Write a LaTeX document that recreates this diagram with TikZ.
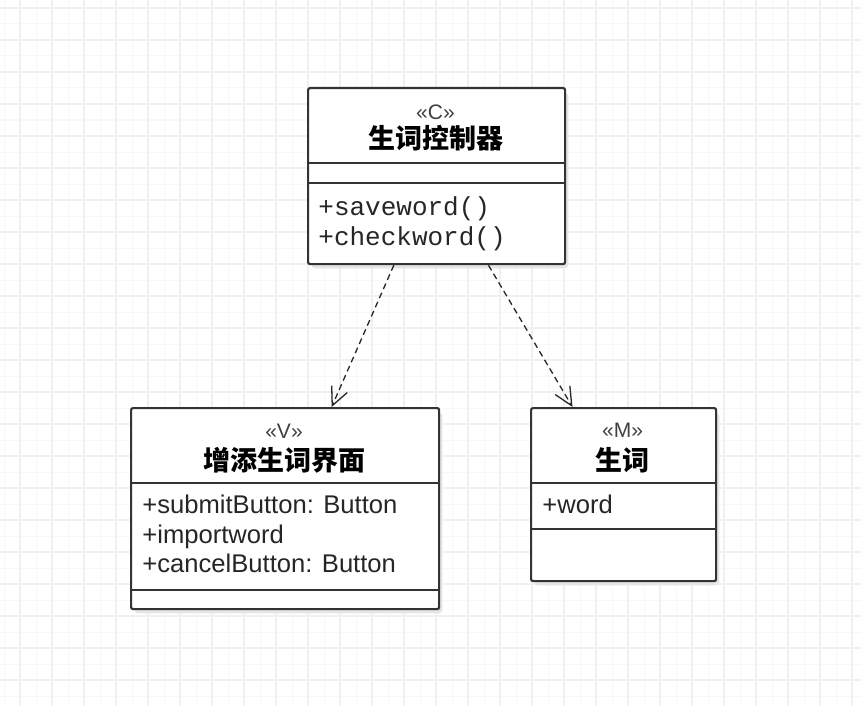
\documentclass[tikz,border=0pt]{standalone}
\usepackage{fontspec}
\setmainfont{Liberation Sans}
\newfontfamily\monofont{Liberation Mono}
\newfontfamily\cjk{Noto Sans CJK SC}
\usetikzlibrary{positioning,arrows.meta,calc}

\begin{document}
\begin{tikzpicture}[x=0.5pt,y=-0.5pt,
  umlbox/.style={draw=black!80, line width=1.1pt, fill=white, rounded corners=1pt, anchor=north west, inner sep=0pt},
  shadowbox/.style={fill=black!10, rounded corners=2pt, anchor=north west, inner sep=0pt},
  sepline/.style={draw=black!80, line width=1.1pt},
  stereo/.style={font=\fontsize{10.5}{12}\selectfont, text=black!75, inner sep=0pt},
  clsname/.style={font=\cjk\bfseries\fontsize{13.5}{16}\selectfont, inner sep=0pt},
  member/.style={font=\fontsize{12.8}{15}\selectfont, text=black!85, anchor=base west, inner sep=0pt},
  method/.style={font=\monofont\fontsize{13}{15}\selectfont, text=black!85, anchor=base west, inner sep=0pt},
  dep/.style={draw=black!85, line width=0.65pt, dash pattern=on 3pt off 2pt, -{Straight Barb[length=9pt,width=8.5pt]}},
  gridminor/.style={draw=black!3, line width=0.5pt},
  gridmajor/.style={draw=black!6, line width=0.6pt}]

\useasboundingbox (0,0) rectangle (861,706);
\fill[white] (0,0) rectangle (861,706);

% Background grid
\begin{scope}
\clip (0,0) rectangle (861,706);
\foreach \gx in {4,36,...,868} \draw[gridminor] (\gx,0) -- (\gx,706);
\foreach \gy in {24,56,...,712} \draw[gridminor] (0,\gy) -- (861,\gy);
\foreach \gx in {20,52,...,852} \draw[gridmajor] (\gx,0) -- (\gx,706);
\foreach \gy in {8,40,...,712} \draw[gridmajor] (0,\gy) -- (861,\gy);
\end{scope}

% Controller class
\node[shadowbox, minimum width=128.5pt, minimum height=88pt] at (311,92) {};
\node[umlbox, minimum width=128.5pt, minimum height=88pt] (ctrl) at (307,87) {};
\draw[sepline] (ctrl.west |- 0,163) -- (ctrl.east |- 0,163);
\draw[sepline] (ctrl.west |- 0,183) -- (ctrl.east |- 0,183);
\node[stereo] (ctrlst) at (435.5,112) {«C»};
\node[clsname] (ctrlname) at (435.5,138) {生词控制器};
\node[method] (save) at (318,215) {+saveword()};
\node[method] (check) at (318,245) {+checkword()};

% View class
\node[shadowbox, minimum width=154pt, minimum height=100.5pt] at (134,412) {};
\node[umlbox, minimum width=154pt, minimum height=100.5pt] (view) at (130,407) {};
\draw[sepline] (view.west |- 0,483) -- (view.east |- 0,483);
\draw[sepline] (view.west |- 0,590) -- (view.east |- 0,590);
\node[stereo] (viewst) at (284,431) {«V»};
\node[clsname] (viewname) at (284,460) {增添生词界面};
\node[member] (submit) at (142,513) {+submitButton: Button};
\node[member] (import) at (142,543) {+importword};
\node[member] (cancel) at (142,572) {+cancelButton: Button};

% Model class
\node[shadowbox, minimum width=92.5pt, minimum height=86.5pt] at (534,412) {};
\node[umlbox, minimum width=92.5pt, minimum height=86.5pt] (model) at (530,407) {};
\draw[sepline] (model.west |- 0,483) -- (model.east |- 0,483);
\draw[sepline] (model.west |- 0,529) -- (model.east |- 0,529);
\node[stereo] (modelst) at (622.5,430) {«M»};
\node[clsname] (modelname) at (622.5,460) {生词};
\node[member] (word) at (542,513) {+word};

% Dependencies
\draw[dep] ($(ctrl.south west)!0.335!(ctrl.south east)$) -- ($(view.north west)!0.65!(view.north east)$);
\draw[dep] ($(ctrl.south west)!0.70!(ctrl.south east)$) -- ($(model.north west)!0.227!(model.north east)$);

\end{tikzpicture}
\end{document}
